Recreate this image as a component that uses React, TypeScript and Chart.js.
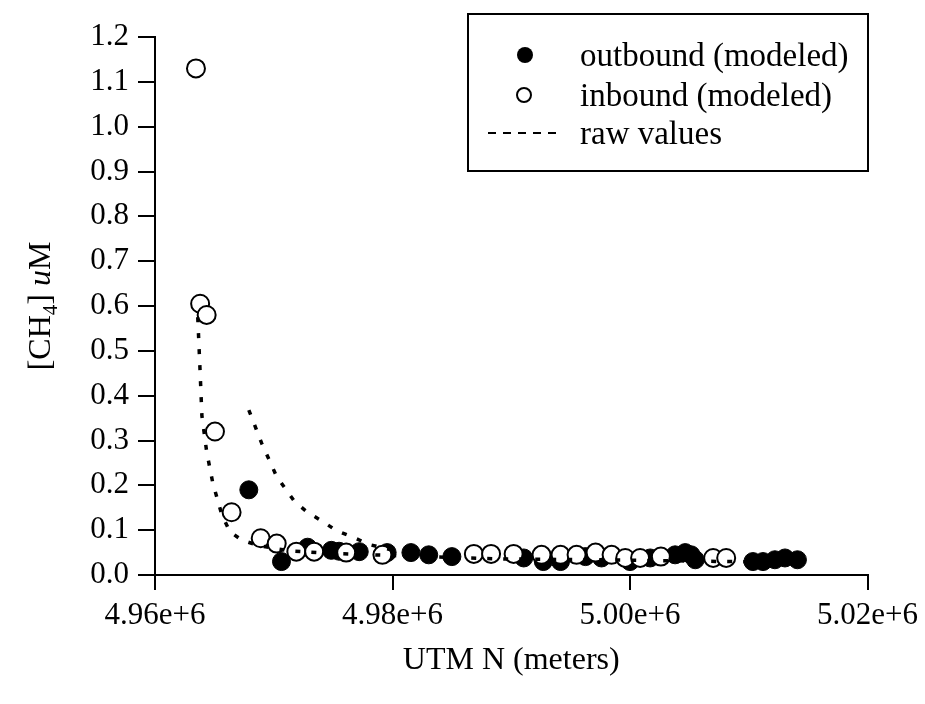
import React, { useEffect, useRef } from "react";
import { Chart, registerables } from "chart.js";

Chart.register(...registerables);

// ---- data (UTM northing in meters, [CH4] in uM) ----
const outboundX = [4967900, 4970650, 4972850, 4974850, 4975500, 4977200, 4979550, 4981550, 4983050, 4985000, 4991050, 4992700, 4994150, 4996250, 4997600, 5000000, 5001700, 5003800, 5004650, 5005150, 5005500, 5010350, 5011200, 5012200, 5013050, 5014100];
const outboundY = [0.19, 0.03, 0.062, 0.055, 0.053, 0.052, 0.05, 0.05, 0.045, 0.041, 0.038, 0.03, 0.03, 0.041, 0.038, 0.03, 0.038, 0.045, 0.05, 0.045, 0.034, 0.03, 0.03, 0.034, 0.038, 0.034];

const inboundX = [4963450, 4963800, 4964350, 4965050, 4966450, 4968900, 4970250, 4971900, 4973400, 4976100, 4979150, 4986850, 4988300, 4990200, 4992550, 4994150, 4995500, 4997100, 4998450, 4999600, 5000850, 5002600, 5007000, 5008100];
const inboundY = [1.13, 0.605, 0.58, 0.32, 0.14, 0.082, 0.07, 0.052, 0.052, 0.05, 0.045, 0.047, 0.047, 0.047, 0.045, 0.045, 0.045, 0.05, 0.045, 0.038, 0.038, 0.041, 0.038, 0.038];

const rawAX = [4963600, 4963780, 4963950, 4964350, 4964870, 4965620, 4966300, 4967300, 4968800, 4971300, 4975000, 4980500, 4989000, 4997300, 5005700, 5010800];
const rawAY = [0.575, 0.465, 0.355, 0.275, 0.205, 0.135, 0.097, 0.078, 0.065, 0.054, 0.048, 0.043, 0.036, 0.034, 0.031, 0.029];

const rawBX = [4967900, 4968980, 4970240, 4971750, 4972840, 4974260, 4975270, 4976780, 4978040, 4980500];
const rawBY = [0.368, 0.294, 0.22, 0.164, 0.14, 0.117, 0.099, 0.083, 0.068, 0.052];

const xTicks = [4960000, 4980000, 5000000, 5020000];
const xTickLabels = ["4.96e+6", "4.98e+6", "5.00e+6", "5.02e+6"];
const legendLabels = ["outbound (modeled)", "inbound (modeled)", "raw values"];
const xTitle = "UTM N (meters)";

const FONT = "'Liberation Serif', 'Times New Roman', serif";

const zip = (xs: number[], ys: number[]) => xs.map((x, i) => ({ x, y: ys[i] }));

const overlayPlugin = {
  id: "overlay",
  afterDraw(chart: any) {
    const ctx = chart.ctx as CanvasRenderingContext2D;
    const area = chart.chartArea;
    // ---- legend box ----
    ctx.save();
    const bx = 468, by = 14, bw = 400, bh = 157;
    ctx.strokeStyle = "#000";
    ctx.lineWidth = 2;
    ctx.strokeRect(bx, by, bw, bh);
    ctx.font = `33px ${FONT}`;
    ctx.fillStyle = "#000";
    ctx.textBaseline = "middle";
    ctx.textAlign = "left";
    const rows = [55, 95, 133];
    // filled
    ctx.beginPath();
    ctx.arc(525, rows[0], 8, 0, Math.PI * 2);
    ctx.fill();
    // open
    ctx.beginPath();
    ctx.arc(524, rows[1], 7, 0, Math.PI * 2);
    ctx.fillStyle = "#fff";
    ctx.fill();
    ctx.lineWidth = 2;
    ctx.stroke();
    ctx.fillStyle = "#000";
    // dashed
    ctx.beginPath();
    ctx.setLineDash([8, 7]);
    ctx.lineWidth = 2;
    ctx.moveTo(488, rows[2]);
    ctx.lineTo(560, rows[2]);
    ctx.stroke();
    ctx.setLineDash([]);
    legendLabels.forEach((t, i) => ctx.fillText(t, 580, rows[i] + 2));
    ctx.restore();

    // ---- y axis title: [CH4] uM ----
    ctx.save();
    const cy = (area.top + area.bottom) / 2;
    ctx.translate(40, cy);
    ctx.rotate(-Math.PI / 2);
    ctx.fillStyle = "#000";
    ctx.textBaseline = "alphabetic";
    ctx.textAlign = "left";
    const parts = [
      { t: "[CH", f: `32px ${FONT}`, dy: 0 },
      { t: "4", f: `21px ${FONT}`, dy: 7 },
      { t: "] ", f: `32px ${FONT}`, dy: 0 },
      { t: "u", f: `italic 32px ${FONT}`, dy: 0 },
      { t: "M", f: `32px ${FONT}`, dy: 0 },
    ];
    let total = 0;
    parts.forEach((p) => {
      ctx.font = p.f;
      total += ctx.measureText(p.t).width;
    });
    let x = -total / 2;
    parts.forEach((p) => {
      ctx.font = p.f;
      ctx.fillText(p.t, x, 10 + p.dy);
      x += ctx.measureText(p.t).width;
    });
    ctx.restore();
  },
};

export default function App() {
  const ref = useRef<HTMLCanvasElement | null>(null);
  useEffect(() => {
    if (!ref.current) return;
    const chart = new Chart(ref.current, {
      type: "scatter",
      data: {
        datasets: [
          {
            label: "raw values",
            data: zip(rawAX, rawAY),
            showLine: true,
            borderColor: "#000",
            borderWidth: 3.5,
            borderDash: [5, 11],
            pointRadius: 0,
            fill: false,
            order: 0,
          } as any,
          {
            label: "raw values 2",
            data: zip(rawBX, rawBY),
            showLine: true,
            borderColor: "#000",
            borderWidth: 3.5,
            borderDash: [5, 11],
            pointRadius: 0,
            fill: false,
            order: 0,
          } as any,
          {
            label: "outbound (modeled)",
            data: zip(outboundX, outboundY),
            pointRadius: 9,
            pointBackgroundColor: "#000",
            pointBorderColor: "#000",
            pointBorderWidth: 1,
            order: 2,
          },
          {
            label: "inbound (modeled)",
            data: zip(inboundX, inboundY),
            pointRadius: 9,
            pointBackgroundColor: "#fff",
            pointBorderColor: "#000",
            pointBorderWidth: 2,
            order: 1,
          },
        ],
      },
      options: {
        animation: false,
        responsive: true,
        maintainAspectRatio: false,
        devicePixelRatio: 1,
        layout: { padding: { top: 37, right: 56, left: 0, bottom: 0 } },
        plugins: { legend: { display: false }, tooltip: { enabled: false } },
        scales: {
          x: {
            type: "linear",
            min: 4960000,
            max: 5020000,
            afterFit: (s: any) => {
              s.height = 129;
            },
            afterBuildTicks: (s: any) => {
              s.ticks = xTicks.map((v) => ({ value: v }));
            },
            ticks: {
              color: "#000",
              font: { family: FONT, size: 31 },
              padding: 7,
              maxRotation: 0,
              callback: (v: any) => {
                const i = xTicks.indexOf(Number(v));
                return i >= 0 ? xTickLabels[i] : "";
              },
            },
            grid: { drawOnChartArea: false, drawTicks: true, tickLength: 15, color: "#000", lineWidth: 2 },
            border: { display: true, color: "#000", width: 2 },
            title: {
              display: true,
              text: xTitle,
              color: "#000",
              font: { family: FONT, size: 32 },
              padding: { top: 0, bottom: 24 },
            },
          },
          y: {
            type: "linear",
            min: 0,
            max: 1.2,
            afterFit: (s: any) => {
              s.width = 155;
            },
            ticks: {
              stepSize: 0.1,
              color: "#000",
              font: { family: FONT, size: 31 },
              padding: 9,
              callback: (v: any) => Number(v).toFixed(1),
            },
            grid: { drawOnChartArea: false, drawTicks: true, tickLength: 17, color: "#000", lineWidth: 2 },
            border: { display: true, color: "#000", width: 2 },
          },
        },
      },
      plugins: [overlayPlugin],
    });
    return () => chart.destroy();
  }, []);
  return (
    <div style={{ position: "fixed", left: 0, top: 0, width: 925, height: 704, background: "#fff" }}>
      <canvas ref={ref} />
    </div>
  );
}
